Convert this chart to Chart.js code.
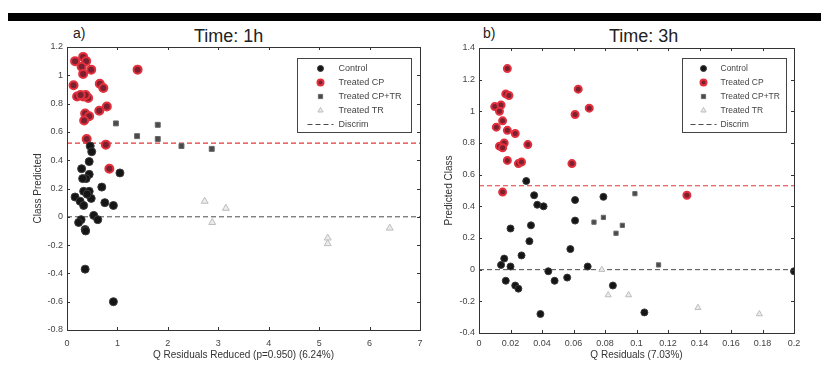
<!DOCTYPE html>
<html>
<head>
<meta charset="utf-8">
<script src="https://cdn.jsdelivr.net/npm/chart.js@4.4.0/dist/chart.umd.min.js"></script>
<style>
  body { margin: 0; background: #fff; width: 821px; height: 365px; position: relative; overflow: hidden;
         font-family: "Liberation Sans", Arial, sans-serif; }
  #bar { position: absolute; left: 8px; top: 13px; width: 813px; height: 8px; background: #000; }
  .lbl { position: absolute; color: #222; font-size: 14px; line-height: 14px; }
  .ttl { position: absolute; color: #222; font-size: 18px; line-height: 18px; }
  canvas { position: absolute; top: 0; }
</style>
</head>
<body>
<div id="bar"></div>
<div class="lbl" style="left:73px;top:26px">a)</div>
<div class="ttl" style="left:194px;top:27px">Time: 1h</div>
<div class="lbl" style="left:483px;top:26px">b)</div>
<div class="ttl" style="left:609px;top:27px">Time: 3h</div>
<canvas id="c1" width="440" height="365" style="left:0"></canvas>
<canvas id="c2" width="401" height="365" style="left:420px"></canvas>
<script>
// ---- Time: 1h (Q residuals reduced vs class predicted) ----
const ctl1hQ = [0.46, 0.49, 0.44, 0.29, 0.44, 0.38, 1.05, 0.69, 0.16, 0.33, 0.44, 0.48, 0.26, 0.33, 0.75, 0.92, 0.53, 0.61, 0.28, 0.23, 0.36, 0.37, 0.36, 0.92, 0.40, 0.31];
const ctl1hClass = [0.50, 0.46, 0.39, 0.34, 0.30, 0.27, 0.31, 0.21, 0.14, 0.18, 0.18, 0.13, 0.11, 0.08, 0.10, 0.08, 0.01, -0.02, -0.02, -0.04, -0.09, -0.10, -0.37, -0.60, 0.16, 0.27];
const cp1hQ = [0.16, 0.32, 0.38, 0.29, 0.32, 0.48, 0.13, 0.20, 0.32, 0.42, 0.37, 0.65, 0.72, 0.64, 0.79, 0.36, 0.44, 0.34, 0.39, 0.77, 0.84, 1.40, 0.27];
const cp1hClass = [1.10, 1.13, 1.10, 1.06, 1.01, 1.04, 0.93, 0.85, 0.85, 0.84, 0.86, 0.94, 0.91, 0.75, 0.78, 0.73, 0.71, 0.68, 0.55, 0.51, 0.34, 1.04, 0.86];
const cptr1hQ = [0.97, 1.39, 1.80, 1.80, 2.27, 2.87];
const cptr1hClass = [0.66, 0.57, 0.65, 0.55, 0.50, 0.48];
const tr1hQ = [2.73, 2.88, 3.15, 5.17, 5.17, 6.40];
const tr1hClass = [0.11, -0.04, 0.06, -0.15, -0.19, -0.08];
const discrim1h = [0.52, 0];

// ---- Time: 3h (Q residuals vs predicted class) ----
const ctl3hQ = [0.030, 0.035, 0.037, 0.041, 0.061, 0.079, 0.020, 0.033, 0.061, 0.032, 0.058, 0.027, 0.016, 0.014, 0.020, 0.069, 0.044, 0.017, 0.023, 0.025, 0.048, 0.056, 0.085, 0.039, 0.105, 0.200];
const ctl3hClass = [0.56, 0.47, 0.41, 0.40, 0.44, 0.46, 0.26, 0.28, 0.31, 0.18, 0.13, 0.09, 0.07, 0.03, 0.02, 0.02, -0.01, -0.07, -0.10, -0.12, -0.07, -0.05, -0.10, -0.28, -0.27, -0.01];
const cp3hQ = [0.018, 0.017, 0.019, 0.010, 0.014, 0.013, 0.015, 0.011, 0.018, 0.023, 0.013, 0.016, 0.015, 0.031, 0.018, 0.025, 0.027, 0.015, 0.063, 0.061, 0.070, 0.059, 0.132];
const cp3hClass = [1.27, 1.11, 1.10, 1.03, 1.04, 1.00, 0.94, 0.90, 0.88, 0.86, 0.78, 0.80, 0.77, 0.79, 0.69, 0.67, 0.68, 0.49, 1.14, 0.98, 1.02, 0.67, 0.47];
const cptr3hQ = [0.073, 0.079, 0.091, 0.087, 0.099, 0.114];
const cptr3hClass = [0.30, 0.33, 0.28, 0.23, 0.48, 0.03];
const tr3hQ = [0.078, 0.082, 0.095, 0.139, 0.178];
const tr3hClass = [0.00, -0.16, -0.16, -0.24, -0.28];
const discrim3h = [0.53, 0];

const FONT = '"Liberation Sans", Arial, sans-serif';

function pts(xs, ys) {
  return xs.map((x, i) => ({ x: x, y: ys[i] }));
}
function fmt(v) {
  return String(Math.round(v * 1000) / 1000);
}

// frame with inward ticks + legend box drawn inside the plot area
const framePlugin = {
  id: 'frame',
  afterDraw(chart, args, opts) {
    const ctx = chart.ctx, a = chart.chartArea;
    const xs = chart.scales.x, ys = chart.scales.y;
    ctx.save();
    ctx.strokeStyle = '#333';
    ctx.lineWidth = 1;
    ctx.strokeRect(Math.round(a.left) + 0.5, Math.round(a.top) + 0.5, Math.round(a.width), Math.round(a.height));
    ctx.beginPath();
    xs.ticks.forEach(t => {
      const px = Math.round(xs.getPixelForValue(t.value)) + 0.5;
      ctx.moveTo(px, a.top); ctx.lineTo(px, a.top + 3);
      ctx.moveTo(px, a.bottom); ctx.lineTo(px, a.bottom - 3);
    });
    ys.ticks.forEach(t => {
      const py = Math.round(ys.getPixelForValue(t.value)) + 0.5;
      ctx.moveTo(a.left, py); ctx.lineTo(a.left + 3, py);
      ctx.moveTo(a.right, py); ctx.lineTo(a.right - 3, py);
    });
    ctx.stroke();

    // legend
    const L = opts.legend;
    const bx = Math.round(a.right - L.right - L.w) + 0.5, by = Math.round(a.top + L.top) + 0.5;
    ctx.fillStyle = '#fff';
    ctx.fillRect(bx, by, L.w, L.h);
    ctx.strokeStyle = '#444';
    ctx.strokeRect(bx, by, L.w, L.h);
    ctx.font = L.fontSize + 'px ' + FONT;
    ctx.textBaseline = 'middle';
    let row = 0;
    chart.data.datasets.forEach(ds => {
      if (!ds.label) return;
      const cy = by + L.firstRow + row * L.rowH;
      const cx = bx + L.markX;
      if (ds.type === 'line') {
        ctx.strokeStyle = ds.borderColor;
        ctx.setLineDash(ds.borderDash);
        ctx.beginPath();
        ctx.moveTo(cx - 13, cy); ctx.lineTo(cx + 13, cy);
        ctx.stroke();
        ctx.setLineDash([]);
      } else {
        ctx.fillStyle = ds.backgroundColor;
        ctx.strokeStyle = ds.borderColor;
        ctx.lineWidth = ds.borderWidth;
        Chart.helpers.drawPoint(ctx, { pointStyle: ds.pointStyle, radius: L.markR, borderWidth: ds.borderWidth, rotation: 0 }, cx, cy);
        ctx.lineWidth = 1;
      }
      ctx.fillStyle = '#444';
      ctx.fillText(ds.label, bx + L.textX, cy);
      row++;
    });
    ctx.restore();
  }
};

function makeChart(id, cfg) {
  const series = [
    { label: 'Control', data: pts(cfg.ctl[0], cfg.ctl[1]), pointStyle: 'circle', radius: cfg.r,
      backgroundColor: '#151515', borderColor: '#3a3a3a', borderWidth: 1 },
    { label: 'Treated CP', data: pts(cfg.cp[0], cfg.cp[1]), pointStyle: 'circle', radius: cfg.r,
      backgroundColor: '#7a2030', borderColor: '#e3303c', borderWidth: 2 },
    { label: 'Treated CP+TR', data: pts(cfg.cptr[0], cfg.cptr[1]), pointStyle: 'rect', radius: cfg.r - 0.5,
      backgroundColor: '#4a4a4a', borderColor: '#6a6a6a', borderWidth: 1 },
    { label: 'Treated TR', data: pts(cfg.tr[0], cfg.tr[1]), pointStyle: 'triangle', radius: cfg.r,
      backgroundColor: '#ececec', borderColor: '#bdbdbd', borderWidth: 1 }
  ];
  const datasets = series.map(s => Object.assign({ type: 'scatter', pointRadius: s.radius, pointHoverRadius: s.radius }, s));
  datasets.push({ type: 'line', label: 'Discrim', data: [{ x: cfg.xMin, y: cfg.discrim[1] }, { x: cfg.xMax, y: cfg.discrim[1] }],
    borderColor: '#4a4a4a', borderWidth: 1, borderDash: [5, 3], pointRadius: 0, fill: false });
  datasets.push({ type: 'line', label: '', data: [{ x: cfg.xMin, y: cfg.discrim[0] }, { x: cfg.xMax, y: cfg.discrim[0] }],
    borderColor: '#e03838', borderWidth: 1.2, borderDash: [5, 3], pointRadius: 0, fill: false });

  return new Chart(document.getElementById(id).getContext('2d'), {
    type: 'scatter',
    data: { datasets: datasets },
    options: {
      responsive: false,
      animation: false,
      devicePixelRatio: 1,
      layout: { padding: { left: 0, right: cfg.padRight, top: cfg.padTop, bottom: 0 } },
      plugins: {
        legend: { display: false },
        tooltip: { enabled: false },
        frame: { legend: cfg.legend }
      },
      scales: {
        x: {
          type: 'linear', min: cfg.xMin, max: cfg.xMax,
          grid: { display: false, drawTicks: false },
          border: { display: false },
          ticks: { stepSize: cfg.xStep, autoSkip: false, maxRotation: 0, padding: cfg.xTickPad, color: '#444',
                   font: { family: FONT, size: 9 }, callback: fmt },
          title: { display: true, text: cfg.xTitle, color: '#333', font: { family: FONT, size: 10 },
                   padding: { top: 0, bottom: 4 } },
          afterFit: s => { s.height = cfg.xAxisH; }
        },
        y: {
          type: 'linear', min: cfg.yMin, max: cfg.yMax,
          grid: { display: false, drawTicks: false },
          border: { display: false },
          ticks: { stepSize: 0.2, autoSkip: false, padding: 4, color: '#444',
                   font: { family: FONT, size: 9 }, callback: fmt },
          title: { display: true, text: cfg.yTitle, color: '#333', font: { family: FONT, size: 10 },
                   padding: { top: cfg.yTitlePad, bottom: 0 } },
          afterFit: s => { s.width = cfg.yAxisW; }
        }
      }
    },
    plugins: [framePlugin]
  });
}

makeChart('c1', {
  ctl: [ctl1hQ, ctl1hClass], cp: [cp1hQ, cp1hClass], cptr: [cptr1hQ, cptr1hClass], tr: [tr1hQ, tr1hClass],
  discrim: discrim1h, r: 4,
  xMin: 0, xMax: 7, xStep: 1, yMin: -0.8, yMax: 1.2,
  xTitle: 'Q Residuals Reduced (p=0.950) (6.24%)', yTitle: 'Class Predicted',
  padRight: 20, padTop: 47, xAxisH: 35, yAxisW: 67, yTitlePad: 32, xTickPad: 8,
  legend: { w: 114, h: 74, right: 9, top: 11, firstRow: 10, rowH: 14, markX: 23, textX: 41, markR: 3, fontSize: 9 }
});

makeChart('c2', {
  ctl: [ctl3hQ, ctl3hClass], cp: [cp3hQ, cp3hClass], cptr: [cptr3hQ, cptr3hClass], tr: [tr3hQ, tr3hClass],
  discrim: discrim3h, r: 3.5,
  xMin: 0, xMax: 0.2, xStep: 0.02, yMin: -0.4, yMax: 1.4,
  xTitle: 'Q Residuals (7.03%)', yTitle: 'Predicted Class',
  padRight: 27, padTop: 48, xAxisH: 32, yAxisW: 59, yTitlePad: 23, xTickPad: 5,
  legend: { w: 104, h: 74, right: 8, top: 10, firstRow: 10, rowH: 14, markX: 21, textX: 38, markR: 3, fontSize: 8.5 }
});
</script>
</body>
</html>
